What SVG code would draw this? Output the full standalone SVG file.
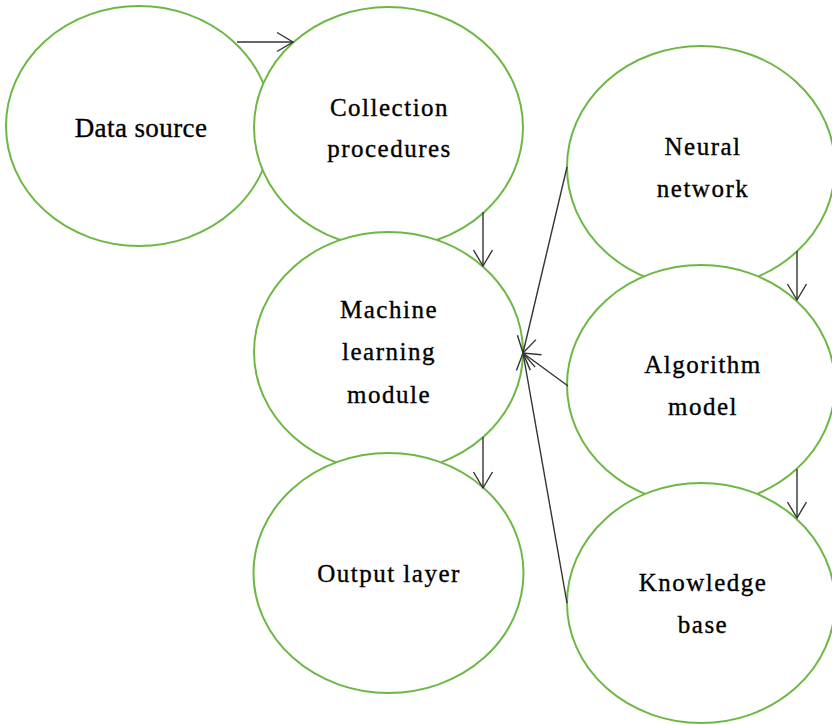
<svg xmlns="http://www.w3.org/2000/svg" width="832" height="725" viewBox="0 0 832 725">
<defs>
<style>
.node ellipse{fill:#ffffff;stroke:#6DB845;stroke-width:2}
.node text{font-family:"Liberation Serif","Times New Roman",serif;font-size:25px;fill:#000000;stroke:#000000;stroke-width:0.35px;text-anchor:middle;letter-spacing:1.5px}
.conn line{stroke:#333333;stroke-width:1.4;fill:none}
</style>
<marker id="arr" markerUnits="userSpaceOnUse" markerWidth="24" markerHeight="24" viewBox="-20 -12 24 24" refX="0" refY="0" orient="auto">
<path d="M-16,-9.5 L0,0 L-16,9.5" fill="none" stroke="#333333" stroke-width="1.4"/>
</marker>
</defs>
<rect width="832" height="725" fill="#ffffff"/>
<g id="data-source" class="node">
<ellipse cx="139" cy="126" rx="133" ry="120"/>
<text x="141" y="137" style="font-size:27px;letter-spacing:0.4px">Data source</text>
</g>
<g id="collection-procedures" class="node">
<ellipse cx="388.5" cy="127.5" rx="134.5" ry="120.5"/>
<text x="389.5" y="116">Collection</text>
<text x="389.5" y="156.5">procedures</text>
</g>
<g id="machine-learning-module" class="node">
<ellipse cx="388.5" cy="352" rx="134.5" ry="120"/>
<text x="389" y="318">Machine</text>
<text x="389" y="360">learning</text>
<text x="389" y="403">module</text>
</g>
<g id="output-layer" class="node">
<ellipse cx="388.5" cy="573" rx="135" ry="120"/>
<text x="389" y="582">Output layer</text>
</g>
<g id="neural-network" class="node">
<ellipse cx="701" cy="167" rx="134" ry="121"/>
<text x="703" y="155">Neural</text>
<text x="703" y="197">network</text>
</g>
<g id="algorithm-model" class="node">
<ellipse cx="701" cy="385" rx="134" ry="120"/>
<text x="703" y="373">Algorithm</text>
<text x="703" y="415">model</text>
</g>
<g id="knowledge-base" class="node">
<ellipse cx="701" cy="603" rx="134" ry="120"/>
<text x="703" y="590.5">Knowledge</text>
<text x="703" y="633">base</text>
</g>
<g id="connectors" class="conn">
<line x1="237" y1="42" x2="293" y2="42" marker-end="url(#arr)"/>
<line x1="483" y1="212" x2="483" y2="266" marker-end="url(#arr)"/>
<line x1="483" y1="437" x2="483" y2="488" marker-end="url(#arr)"/>
<line x1="797" y1="251" x2="797" y2="300" marker-end="url(#arr)"/>
<line x1="797" y1="469" x2="797" y2="518" marker-end="url(#arr)"/>
<line x1="567" y1="167" x2="523" y2="353" marker-end="url(#arr)"/>
<line x1="568" y1="386" x2="523" y2="353" marker-end="url(#arr)"/>
<line x1="567" y1="603" x2="523" y2="353" marker-end="url(#arr)"/>
</g>
</svg>
